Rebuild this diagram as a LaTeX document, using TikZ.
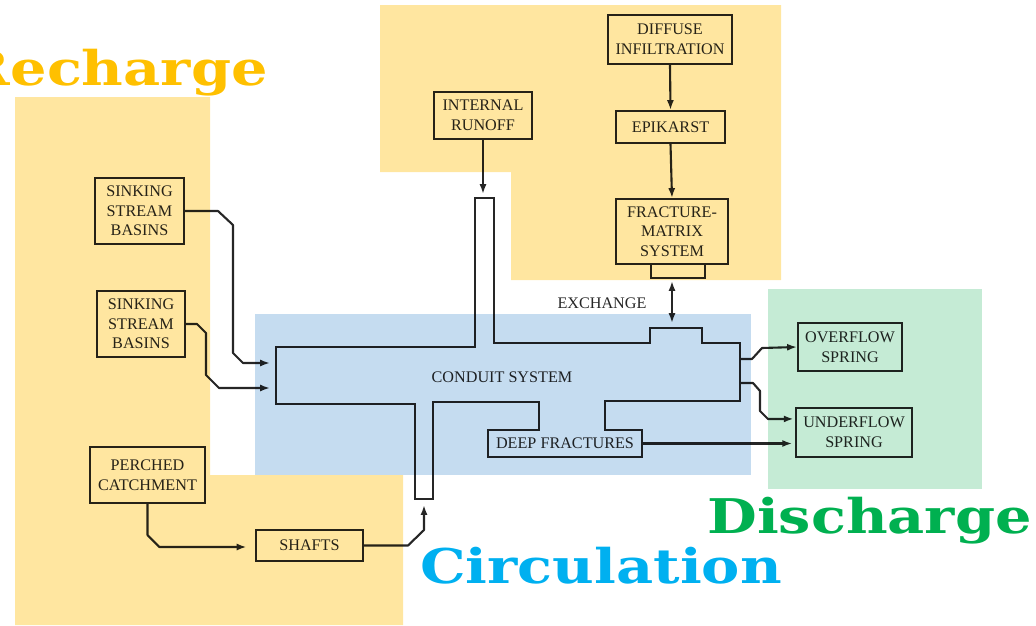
\documentclass[tikz,border=0pt]{standalone}
\usepackage{fontspec}
\setmainfont{Liberation Serif}
\newfontfamily\titlefont{DejaVu Serif}
\usepackage{tikz}
\usetikzlibrary{arrows.meta}
\definecolor{rechargebg}{HTML}{FFE6A0}
\definecolor{circbg}{HTML}{C5DCF0}
\definecolor{dischbg}{HTML}{C5EBD5}
\definecolor{rechargefg}{HTML}{FFC000}
\definecolor{circfg}{HTML}{00B0F0}
\definecolor{dischfg}{HTML}{00B050}
\definecolor{ink}{HTML}{262626}

\begin{document}
\begin{tikzpicture}[x=0.025cm, y=-0.025cm,
  box/.style={draw=ink, line width=1.4pt, text=ink, align=center, inner sep=0pt, font=\fontsize{11.5}{14}\selectfont},
  lbl/.style={text=ink, inner sep=0pt, align=center, font=\fontsize{11.5}{14}\selectfont},
  flow/.style={draw=ink, line width=1.5pt, line join=round, -{Latex[length=7pt,width=5pt]}},
  pipe/.style={draw=ink, line width=1.6pt, line join=miter},
  title/.style={inner sep=0pt, font=\titlefont\bfseries\fontsize{34}{34}\selectfont}]
\useasboundingbox (0,0) rectangle (1036,625);

\node[box, minimum width=2.225cm, minimum height=1.65cm] (sink1) at (139.5,211) {SINKING\\STREAM\\BASINS};
\node[box, minimum width=2.2cm, minimum height=1.65cm] (sink2) at (141,324) {SINKING\\STREAM\\BASINS};
\node[box, minimum width=2.875cm, minimum height=1.4cm] (perched) at (147.5,475) {PERCHED\\CATCHMENT};
\node[box, minimum width=2.675cm, minimum height=0.775cm] (shafts) at (309.5,545.5) {SHAFTS};
\node[box, minimum width=2.45cm, minimum height=1.175cm] (runoff) at (483,115.5) {INTERNAL\\RUNOFF};
\node[box, minimum width=3.1cm, minimum height=1.225cm] (diffuse) at (670,39.5) {DIFFUSE\\INFILTRATION};
\node[box, minimum width=2.725cm, minimum height=0.8cm] (epikarst) at (670.5,127) {EPIKARST};
\node[box, minimum width=2.8cm, minimum height=1.625cm] (fracture) at (672,231.5) {FRACTURE-\\MATRIX\\SYSTEM};
\node[box, minimum width=2.6cm, minimum height=1.2cm] (overflow) at (850,347) {OVERFLOW\\SPRING};
\node[box, minimum width=2.9cm, minimum height=1.225cm] (underflow) at (854,432.5) {UNDERFLOW\\SPRING};
\node[lbl, minimum width=3.85cm, minimum height=0.675cm] (deep) at (565,443.5) {DEEP FRACTURES};
\node[lbl] (conduit) at (502,377) {CONDUIT SYSTEM};
\node[lbl] (exchange) at (602,303) {EXCHANGE};

\draw[pipe] (276,347) -- (475,347) -- (475,198) -- (494,198) -- (494,343) -- (650,343) -- (650,328)
  -- (702,328) -- (702,343) -- (740,343) -- (740,401) -- (605,401) -- (605,430) -- (642,430)
  -- (642,457) -- (488,457) -- (488,430) -- (539,430) -- (539,402) -- (433,402) -- (433,499)
  -- (415,499) -- (415,404) -- (276,404) -- cycle;
\draw[box] (651,264) |- (705,278) -- (705,264);

\coordinate (in1) at (270,363);
\coordinate (in2) at (270,388);
\coordinate (topshaft) at (483,194);
\coordinate (botshaft) at (424,505);
\coordinate (xtop) at (672,281);
\coordinate (xbot) at (672,323);
\coordinate (out1) at (740,359);
\coordinate (out2) at (740,383);

\draw[flow] (sink1.east) -- (218,211) -- (233,225) -- (233,353) -- (243,363) -- (in1);
\draw[flow] (sink2.east) -- (197,324) -- (206,333) -- (206,375) -- (219,388) -- (in2);
\draw[flow] (runoff.south) -- (topshaft);
\draw[flow] (diffuse.south) -- (epikarst.north);
\draw[flow] (epikarst.south) -- (fracture.north);
\draw[flow, {Latex[length=7pt,width=5pt]}-{Latex[length=7pt,width=5pt]}] (xtop) -- (xbot);
\draw[flow, shorten >=6pt] (perched.south) -- (147.5,535) -- (159.5,547) -- (shafts.west |- 0,547);
\draw[flow] (shafts.east) -- (408,545.5) -- (424,530) -- (botshaft);
\draw[flow] (out1) -- (752,359) -- (762,348) -- (overflow.west);
\draw[flow, shorten >=1pt] (out2) -- (753,383) -- (760,391) -- (760,411) -- (768,419) -- ([yshift=0.34cm]underflow.west);
\draw[flow, shorten >=2pt] (deep.east) -- (underflow.west |- deep.east);

\begin{scope}[blend mode=multiply]
\fill[rechargebg] (15,97) -- (210,97) -- (210,475) -- (403,475) -- (403,625) -- (15,625) -- cycle;
\fill[rechargebg] (380,5) -- (781,5) -- (781,280) -- (511,280) -- (511,172) -- (380,172) -- cycle;
\fill[circbg] (255,314) rectangle (751,475);
\fill[dischbg] (768,289) rectangle (982,489);
\end{scope}

\node[title, text=rechargefg, anchor=base east] (recharge) at (268,85) {\scalebox{1.2}[1]{Recharge}};
\node[title, text=dischfg, anchor=base west] (discharge) at (707,533) {\scalebox{1.2}[1]{Discharge}};
\node[title, text=circfg, anchor=base west] (circulation) at (420,583) {\scalebox{1.2}[1]{Circulation}};
\end{tikzpicture}
\end{document}
